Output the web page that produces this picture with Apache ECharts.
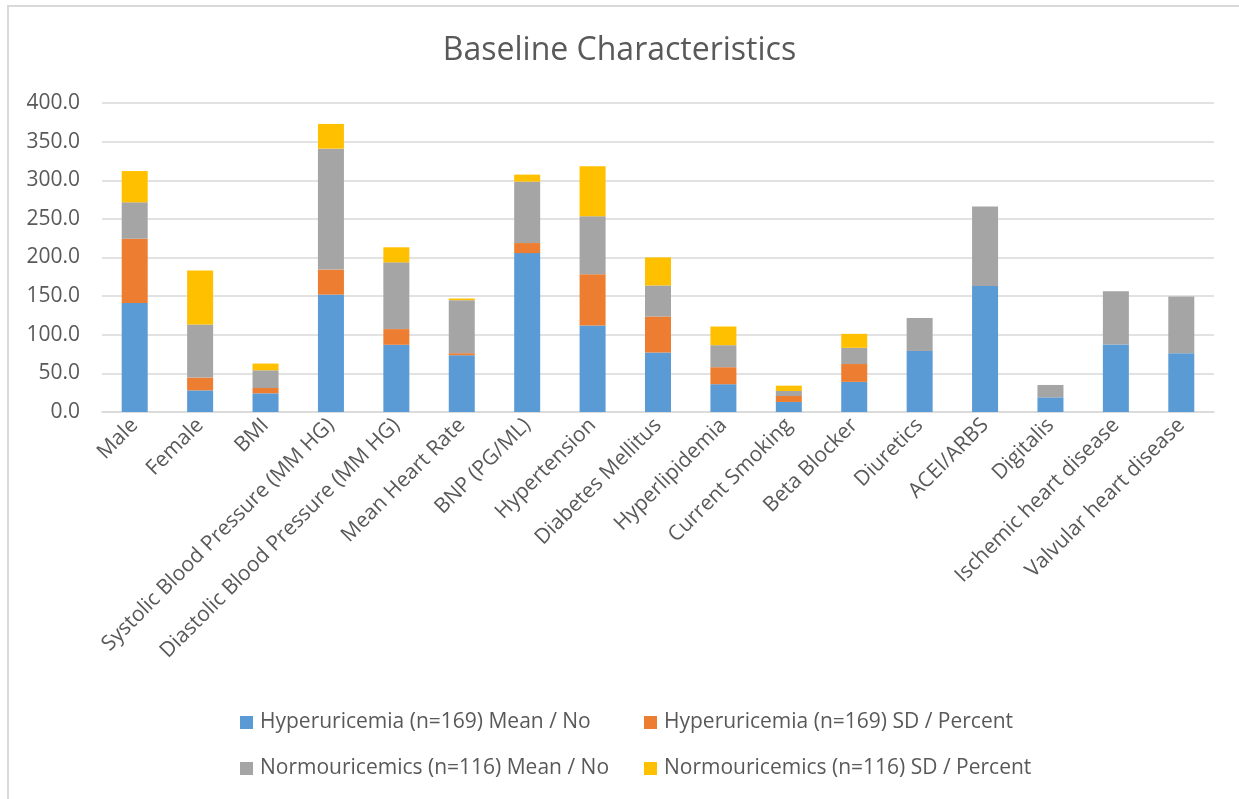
<!DOCTYPE html>
<html>
<head>
<meta charset="utf-8">
<title>Baseline Characteristics</title>
<script src="https://cdn.jsdelivr.net/npm/echarts@6/dist/echarts.min.js"></script>
<style>
  html, body { margin: 0; padding: 0; background: #fff; overflow: hidden; }
  #frame { position: absolute; left: 7px; top: 5px; width: 1240px; height: 810px; border: 2px solid #d9d9d9; box-sizing: border-box; }
  #chart { position: absolute; left: 0; top: 0; width: 1239px; height: 799px; }
</style>
</head>
<body>
<div id="frame"></div>
<div id="chart"></div>
<script>
// categories and series values
const categories = ['Male', 'Female', 'BMI', 'Systolic Blood Pressure (MM HG)', 'Diastolic Blood Pressure (MM HG)',
  'Mean Heart Rate', 'BNP (PG/ML)', 'Hypertension', 'Diabetes Mellitus', 'Hyperlipidemia', 'Current Smoking',
  'Beta Blocker', 'Diuretics', 'ACEI/ARBS', 'Digitalis', 'Ischemic heart disease', 'Valvular heart disease']

const hyperMean = [141, 28, 24.2, 152, 87, 73.5, 205.7, 112, 77, 36, 13, 39, 79, 163, 19, 87.3, 76]
const hyperSd = [83.4, 16.6, 6.9, 32.4, 20.3, 2.6, 13, 66.3, 46.6, 22, 7.7, 23.1, 0, 0, 0, 0, 0]
const normoMean = [47, 68.6, 22.9, 156.5, 86.4, 68.7, 79.5, 75, 40.2, 28.5, 6.5, 21, 42.7, 102.9, 16, 69.1, 73.4]
const normoSd = [40.5, 70, 8.7, 32, 19.5, 2.1, 9.1, 64.7, 36.3, 24.2, 6.9, 18.1, 0, 0, 0, 0, 0]

const yTicks = { min: 0, max: 400, interval: 50 }

const seriesNames = ['Hyperuricemia (n=169) Mean / No', 'Hyperuricemia (n=169) SD / Percent',
  'Normouricemics (n=116) Mean / No', 'Normouricemics (n=116) SD / Percent']
const colors = ['#5B9BD5', '#ED7D31', '#A5A5A5', '#FFC000']
const seriesData = [hyperMean, hyperSd, normoMean, normoSd]

const textColor = '#595959'
const font = 'Open Sans'

const myChart = echarts.init(document.getElementById('chart'))

// one legend per item so the two columns line up like the original
const legendPos = [
  { left: 240, top: 712 },
  { left: 644, top: 712 },
  { left: 240, top: 758 },
  { left: 644, top: 758 }
]

const option = {
  animation: false,
  color: colors,
  title: {
    text: 'Baseline Characteristics',
    left: 'center',
    top: 30,
    textStyle: { color: textColor, fontSize: 32, fontWeight: 'normal', fontFamily: font }
  },
  legend: seriesNames.map((name, i) => ({
    data: [name],
    left: legendPos[i].left,
    top: legendPos[i].top,
    padding: 0,
    itemWidth: 13,
    itemHeight: 13,
    icon: 'rect',
    textStyle: { color: textColor, fontSize: 21, fontFamily: font, padding: [0, 0, 0, 2] }
  })),
  grid: {
    left: 102,
    right: 25,
    top: 103,
    bottom: 387
  },
  xAxis: {
    type: 'category',
    data: categories,
    axisLine: { lineStyle: { color: '#d9d9d9', width: 1.5 } },
    axisTick: { show: false },
    axisLabel: {
      interval: 0,
      rotate: 45,
      margin: 10,
      color: textColor,
      fontSize: 21,
      fontFamily: font
    }
  },
  yAxis: {
    type: 'value',
    min: yTicks.min,
    max: yTicks.max,
    interval: yTicks.interval,
    axisLine: { show: false },
    axisTick: { show: false },
    axisLabel: {
      margin: 22,
      color: textColor,
      fontSize: 21,
      fontFamily: font,
      formatter: v => v.toFixed(1)
    },
    splitLine: { lineStyle: { color: '#d9d9d9', width: 1.5 } }
  },
  series: seriesNames.map((name, i) => ({
    name: name,
    type: 'bar',
    stack: 'total',
    barWidth: 26,
    data: seriesData[i],
    itemStyle: { color: colors[i] }
  }))
}

myChart.setOption(option)
</script>
</body>
</html>
